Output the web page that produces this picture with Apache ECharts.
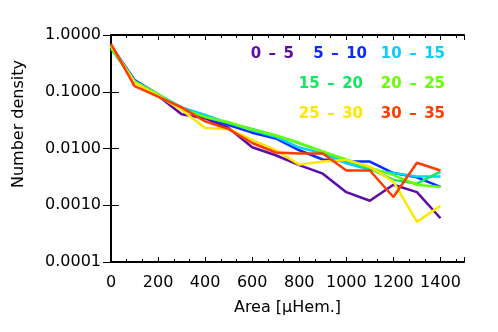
<!DOCTYPE html>
<html>
<head>
<meta charset="utf-8">
<script src="https://cdn.jsdelivr.net/npm/echarts@6/dist/echarts.min.js"></script>
<style>
  html, body { margin: 0; padding: 0; background: #fff; }
  #chart { width: 498px; height: 332px; }
</style>
</head>
<body>
<div id="chart"></div>
<script>
// area bins (uHem)
var areas = [0, 100, 200, 300, 400, 500, 600, 700, 800, 900, 1000, 1100, 1200, 1300, 1400];

var bin0_5   = [0.65, 0.16, 0.085, 0.040, 0.034, 0.023, 0.0105, 0.0076, 0.0051, 0.0036, 0.0017, 0.0012, 0.0023, 0.0017, 0.00059];
var bin5_10  = [0.65, 0.16, 0.090, 0.050, 0.036, 0.026, 0.0190, 0.0150, 0.0093, 0.0064, 0.0059, 0.0059, 0.0037, 0.0031, 0.0021];
var bin10_15 = [0.65, 0.155, 0.090, 0.053, 0.039, 0.028, 0.0210, 0.0160, 0.0104, 0.0082, 0.0055, 0.0042, 0.0037, 0.0032, 0.0032];
var bin15_20 = [0.58, 0.15, 0.090, 0.050, 0.036, 0.028, 0.0220, 0.0170, 0.0123, 0.0088, 0.0062, 0.0044, 0.0028, 0.0024, 0.0039];
var bin20_25 = [0.62, 0.15, 0.090, 0.050, 0.036, 0.029, 0.0215, 0.0170, 0.0126, 0.0088, 0.0064, 0.0046, 0.0034, 0.0023, 0.0021];
var bin25_30 = [0.65, 0.145, 0.085, 0.048, 0.023, 0.022, 0.0142, 0.0094, 0.0052, 0.0059, 0.0063, 0.0048, 0.0026, 0.00051, 0.00098];
var bin30_35 = [0.70, 0.126, 0.082, 0.053, 0.030, 0.022, 0.0125, 0.0085, 0.0082, 0.0082, 0.0041, 0.0041, 0.0014, 0.0056, 0.0041];

var binNames  = ['0\u2002–\u20025', '5\u2002–\u200210', '10\u2002–\u200215', '15\u2002–\u200220',
                 '20\u2002–\u200225', '25\u2002–\u200230', '30\u2002–\u200235'];
var binColors = ['#5e0aa6', '#0a2cff', '#00d2ff', '#10e860', '#66ff00', '#ffe600', '#ff3c00'];
var binData   = [bin0_5, bin5_10, bin10_15, bin15_20, bin20_25, bin25_30, bin30_35];

var yTicks = [0.0001, 0.001, 0.01, 0.1, 1];

var chart = echarts.init(document.getElementById('chart'));

var series = binData.map(function (vals, i) {
  return {
    name: binNames[i],
    type: 'line',
    data: vals.map(function (v, j) { return [areas[j], v]; }),
    symbol: 'none',
    lineStyle: { color: binColors[i], width: 2.5 },
    itemStyle: { color: binColors[i] },
    animation: false
  };
});

// legend text, coloured like the lines (right edge, middle)
var legendPos = [
  [294, 54], [367, 54], [445, 54],
  [363, 84], [445, 84],
  [363, 114], [445, 114]
];
var graphics = binNames.map(function (n, i) {
  return {
    type: 'text',
    x: legendPos[i][0],
    y: legendPos[i][1],
    style: {
      text: n,
      fill: binColors[i],
      font: 'bold 15px "DejaVu Sans"',
      textAlign: 'right',
      textVerticalAlign: 'middle'
    }
  };
});
// y axis title sits a bit above the plot centre, like the original
graphics.push({
  type: 'text',
  x: 19, y: 124,
  rotation: Math.PI / 2,
  style: {
    text: 'Number density',
    fill: '#000',
    font: '16px "DejaVu Sans"',
    textAlign: 'center',
    textVerticalAlign: 'middle'
  }
});

var axisLine = { show: true, lineStyle: { color: '#000', width: 2 } };
var font = { color: '#000', fontFamily: 'DejaVu Sans', fontSize: 16 };

var option = {
  backgroundColor: '#fff',
  animation: false,
  grid: { left: 111, top: 35, width: 353, height: 227 },
  xAxis: [{
    type: 'value',
    min: 0, max: 1500, interval: 200,
    name: 'Area [μHem.]',
    nameLocation: 'middle',
    nameGap: 38,
    nameTextStyle: font,
    axisLine: axisLine,
    axisTick: { inside: true, length: 5, lineStyle: { color: '#000' } },
    minorTick: { show: true, splitNumber: 3, length: 3, lineStyle: { color: '#000' } },
    axisLabel: Object.assign({
      margin: 13,
      showMaxLabel: false,
      formatter: function (v) { return String(v); }
    }, font),
    splitLine: { show: false }
  }, {
    type: 'value',
    position: 'top',
    min: 0, max: 1500, interval: 200,
    axisLine: axisLine,
    axisTick: { inside: true, length: 5, lineStyle: { color: '#000' } },
    minorTick: { show: true, splitNumber: 3, length: 3, lineStyle: { color: '#000' } },
    axisLabel: { show: false },
    splitLine: { show: false }
  }],
  yAxis: [{
    type: 'log',
    logBase: 10,
    min: yTicks[0], max: yTicks[yTicks.length - 1],
    axisLine: axisLine,
    axisTick: { inside: true, length: 8, lineStyle: { color: '#000' } },
    axisLabel: Object.assign({
      margin: 10,
      formatter: function (v) { return (+v).toFixed(4); }
    }, font),
    splitLine: { show: false }
  }, {
    type: 'log',
    logBase: 10,
    position: 'right',
    min: yTicks[0], max: yTicks[yTicks.length - 1],
    axisLine: axisLine,
    axisTick: { inside: true, length: 8, lineStyle: { color: '#000' } },
    axisLabel: { show: false },
    splitLine: { show: false }
  }],
  graphic: graphics,
  series: series
};

chart.setOption(option);
</script>
</body>
</html>
